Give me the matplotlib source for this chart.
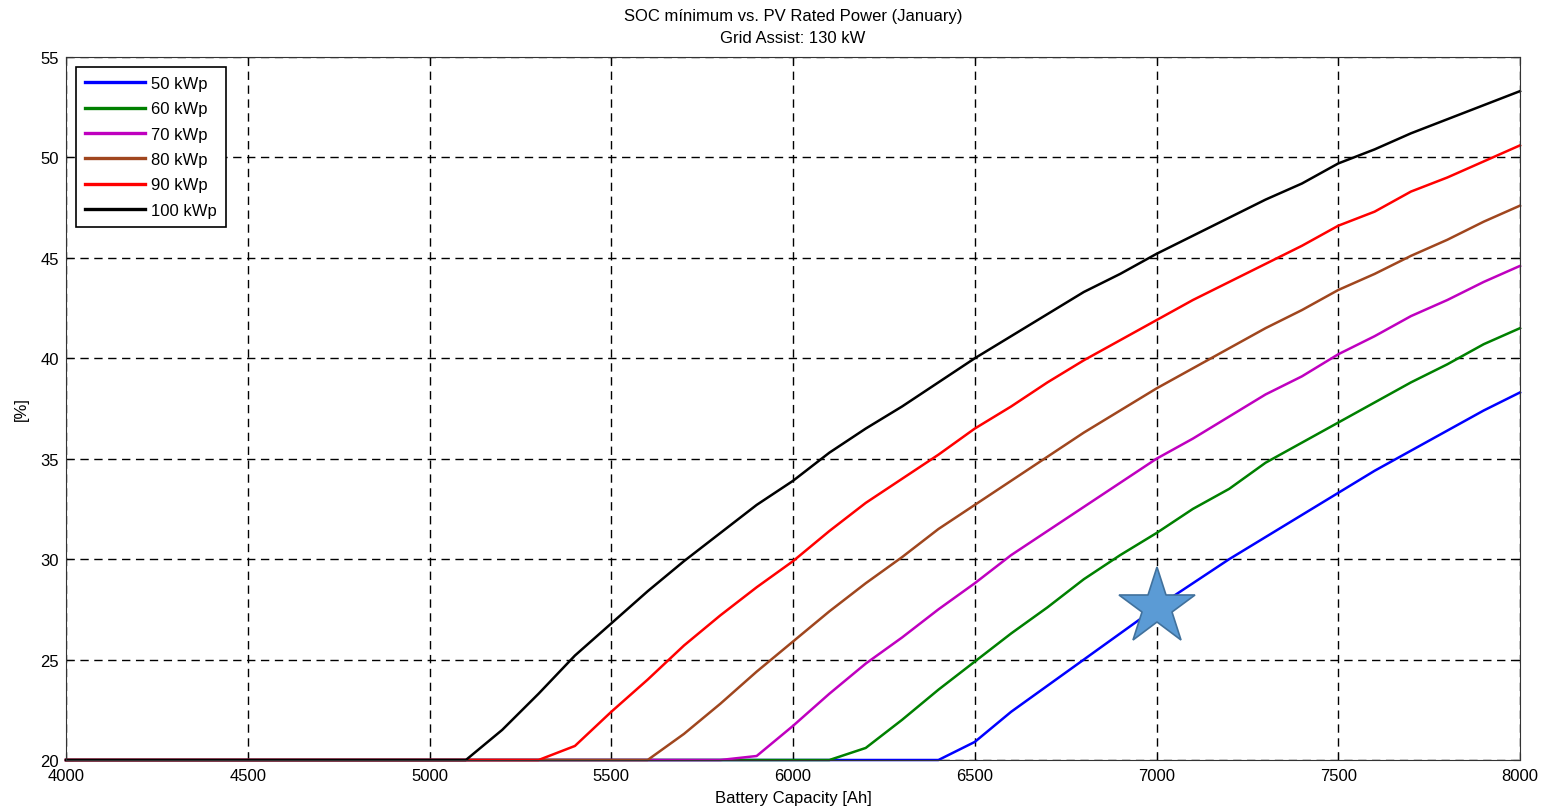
import numpy as np
import matplotlib.pyplot as plt

plt.rcParams['font.family'] = ['Liberation Sans', 'DejaVu Sans']

# Battery capacity [Ah], every 100 Ah
capacity = np.arange(4000, 8001, 100)

# SOC minimum [%] per PV rated power
soc_50 = [20.0] * 25 + [20.9, 22.4, 23.7, 25.0, 26.3, 27.6, 28.8, 30.0,
                        31.1, 32.2, 33.3, 34.4, 35.4, 36.4, 37.4, 38.3]
soc_60 = [20.0] * 22 + [20.6, 22.0, 23.5, 24.9, 26.3, 27.6, 29.0, 30.2, 31.3,
                        32.5, 33.5, 34.8, 35.8, 36.8, 37.8, 38.8, 39.7,
                        40.7, 41.5]
soc_70 = [20.0] * 19 + [20.2, 21.7, 23.3, 24.8, 26.1, 27.5, 28.8, 30.2, 31.4,
                        32.6, 33.8, 35.0, 36.0, 37.1, 38.2, 39.1, 40.2,
                        41.1, 42.1, 42.9, 43.8, 44.6]
soc_80 = [20.0] * 17 + [21.3, 22.8, 24.4, 25.9, 27.4, 28.8, 30.1, 31.5, 32.7,
                        33.9, 35.1, 36.3, 37.4, 38.5, 39.5, 40.5, 41.5,
                        42.4, 43.4, 44.2, 45.1, 45.9, 46.8, 47.6]
soc_90 = [20.0] * 14 + [20.7, 22.4, 24.0, 25.7, 27.2, 28.6, 29.9, 31.4, 32.8,
                        34.0, 35.2, 36.5, 37.6, 38.8, 39.9, 40.9, 41.9,
                        42.9, 43.8, 44.7, 45.6, 46.6, 47.3, 48.3, 49.0,
                        49.8, 50.6]
soc_100 = [20.0] * 12 + [21.5, 23.3, 25.2, 26.8, 28.4, 29.9, 31.3, 32.7, 33.9,
                         35.3, 36.5, 37.6, 38.8, 40.0, 41.1, 42.2, 43.3,
                         44.2, 45.2, 46.1, 47.0, 47.9, 48.7, 49.7, 50.4,
                         51.2, 51.9, 52.6, 53.3]

series = [
    ('50 kWp', soc_50, '#0000ff'),
    ('60 kWp', soc_60, '#008000'),
    ('70 kWp', soc_70, '#bf00bf'),
    ('80 kWp', soc_80, '#a0461e'),
    ('90 kWp', soc_90, '#ff0000'),
    ('100 kWp', soc_100, '#000000'),
]

# highlighted design point
star_x = [7000]
star_y = [27.6]

fs = 12

fig = plt.figure(figsize=(15.46, 8.12), dpi=100)
ax = fig.add_axes([0.0427, 0.0628, 0.9405, 0.8658])

for label, values, color in series:
    ax.plot(capacity, values, color=color, lw=1.8, label=label, clip_on=False)

ax.plot(star_x, star_y, marker='*', markersize=58, color='#5b9bd5',
        markeredgecolor='#41719c', markeredgewidth=1.2, ls='none', zorder=5)

ax.set_xlim(4000, 8000)
ax.set_ylim(20, 55)
ax.set_xticks(np.arange(4000, 8001, 500))
ax.set_yticks(np.arange(20, 56, 5))
ax.grid(True, color='black', ls=(0, (6, 4)), lw=1.0)
ax.tick_params(direction='in', top=True, right=True, labelsize=fs, length=5)
ax.tick_params(axis='x', pad=6)
ax.tick_params(axis='y', pad=5)
for sp in ax.spines.values():
    sp.set_color('#333333')

ax.set_xlabel('Battery Capacity [Ah]', fontsize=fs, labelpad=5)
ax.set_ylabel('[%]', fontsize=fs, labelpad=8)
ax.set_title('SOC mínimum vs. PV Rated Power (January)\nGrid Assist: 130 kW',
             fontsize=fs, pad=11, linespacing=1.55)

leg = ax.legend(loc='upper left', fontsize=fs, handlelength=3.6,
                handletextpad=0.35, labelspacing=0.62, borderaxespad=0.6,
                borderpad=0.55, fancybox=False, framealpha=1,
                edgecolor='black')
leg.get_frame().set_linewidth(1.2)
for line in leg.get_lines():
    line.set_linewidth(2.4)

fig.savefig('out.png', dpi=100)
